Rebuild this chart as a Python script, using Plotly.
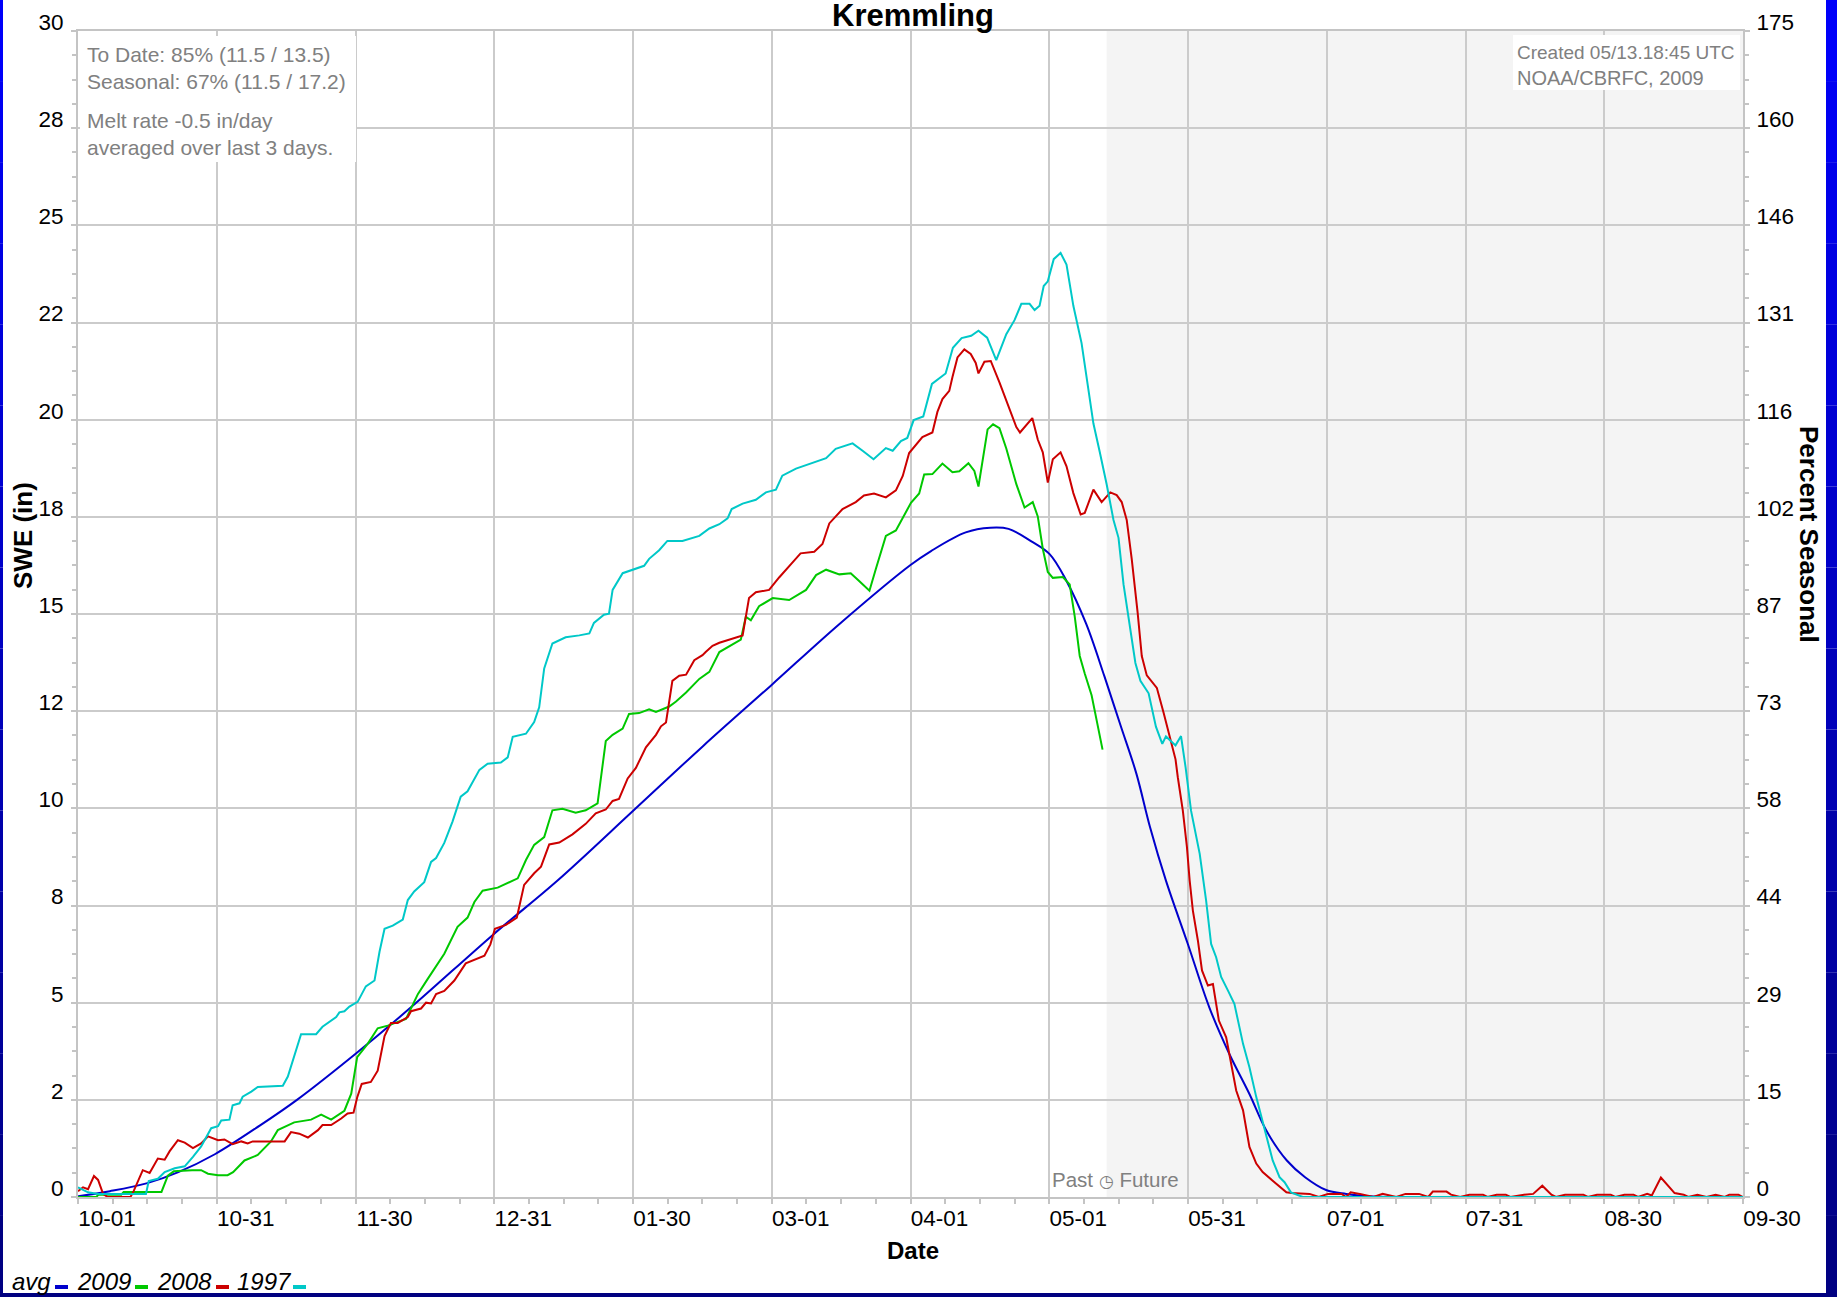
import plotly.graph_objects as go

# ---------------- data ----------------
title_text = "Kremmling"
x_tick_text = ["10-01", "10-31", "11-30", "12-31", "01-30", "03-01", "04-01",
               "05-01", "05-31", "07-01", "07-31", "08-30", "09-30"]
y_tick_vals = [0, 2.5, 5, 7.5, 10, 12.5, 15, 17.5, 20, 22.5, 25, 27.5, 30]
y_tick_text = ["0", "2", "5", "8", "10", "12", "15", "18", "20", "22", "25", "28", "30"]
pct_tick_text = ["0", "15", "29", "44", "58", "73", "87", "102", "116", "131", "146", "160", "175"]
season_days = 365          # water year Oct 1 .. Sep 30 (x = days since Oct 1)
future_start = 225.5       # May 13/14 -> start of "Future" shading

series_names = ["avg", "2009", "2008", "1997"]
series_colors = ["#0000cc", "#00c800", "#cc0000", "#00c8c8"]

avg_day = [0, 7, 15, 22, 30, 40, 48, 61, 73, 91, 105, 122, 137, 152, 167, 182.5,
           187, 194.6, 200, 204, 209, 213, 216.7, 221, 225, 228.5, 232, 235, 238.5,
           243.3, 248, 252.4, 256.8, 260.5, 265, 269, 273.6, 278, 283, 290, 365]
avg_swe = [0.02, 0.15, 0.35, 0.64, 1.1, 1.85, 2.5, 3.7, 4.88, 6.75, 8.13, 9.97, 11.6,
           13.17, 14.75, 16.26, 16.62, 17.1, 17.22, 17.19, 16.87, 16.54, 15.85, 14.75,
           13.4, 12.15, 10.9, 9.52, 8.14, 6.51, 4.88, 3.68, 2.65, 1.71, 0.94, 0.51,
           0.18, 0.08, 0.02, 0.0, 0.0]

wy2009_day = [0, 4, 4.5, 9.5, 10, 18.3, 19.7, 21, 25, 27, 28.5, 30.7, 32.8, 34, 36.5,
              39.4, 42.3, 43.8, 47.4, 51.1, 53.3, 55.5, 58.4, 59.9, 61.2, 63.5, 65.7,
              67.9, 71.9, 74.5, 76.6, 80.3, 83.2, 85.4, 86.9, 88.7, 92, 96.4, 98.2, 100,
              102.2, 104, 106.2, 109.1, 111.3, 113.9, 115.7, 117.2, 119.4, 120.8, 123,
              125.2, 126.7, 129.6, 131.1, 133.3, 136.2, 138.4, 140.6, 142.8, 145.3,
              146.4, 147.5, 149.3, 152.3, 155.9, 159.6, 161.8, 164, 166.9, 169.4,
              171.3, 173.5, 174.9, 177.1, 179.3, 181.5, 182.6, 184.4, 185.5, 187.3,
              189.5, 191.7, 193.2, 195.2, 196.5, 197.4, 199.4, 200.6, 202, 203.5,
              205.7, 207.5, 209.3, 210.4, 211.5, 212.6, 213.7, 215.9, 217.4, 218.5,
              219.6, 220.7, 222.2, 223.3, 224.6]
wy2009_swe = [0.0, 0.0, 0.06, 0.06, 0.13, 0.13, 0.55, 0.66, 0.69, 0.69, 0.6, 0.56, 0.56,
              0.64, 0.94, 1.08, 1.43, 1.72, 1.92, 1.99, 2.12, 1.99, 2.22, 2.66, 3.6,
              3.94, 4.34, 4.41, 4.58, 5.22, 5.6, 6.26, 6.95, 7.19, 7.59, 7.88, 7.96,
              8.2, 8.67, 9.06, 9.26, 9.95, 9.99, 9.89, 9.95, 10.13, 11.73, 11.89, 12.05,
              12.43, 12.45, 12.55, 12.48, 12.62, 12.75, 12.98, 13.33, 13.51, 14.02,
              14.18, 14.34, 14.93, 14.84, 15.2, 15.41, 15.36, 15.62, 16.0, 16.14, 16.02,
              16.05, 15.84, 15.6, 16.16, 17.01, 17.15, 17.6, 17.86, 18.1, 18.59, 18.6,
              18.87, 18.65, 18.67, 18.88, 18.68, 18.28, 19.75, 19.88, 19.78, 19.26,
              18.34, 17.74, 17.88, 17.51, 16.68, 16.08, 15.93, 15.95, 15.76, 14.94,
              13.92, 13.47, 12.91, 12.27, 11.51]

wy2008_day = [0, 1.1, 2.2, 3.5, 4.4, 5.5, 6.5, 11.5, 12.2, 14.2, 15.7, 17.5, 19, 20.1,
              21.9, 23.4, 25.2, 27, 28.5, 30.7, 32.1, 33.9, 35.8, 37.2, 38.3, 45.3, 46.7,
              48.5, 50.4, 52.6, 53.6, 55.5, 57.7, 59.1, 60.4, 61.2, 62.2, 64.2, 65.7,
              67.2, 68.6, 70.1, 72.3, 73, 75.2, 76.3, 77.4, 78.5, 80.3, 82.5, 85, 86.9,
              89.1, 90.4, 91.4, 93.8, 96.2, 97.8, 100, 101.5, 103.3, 105.5, 108.4, 111.3,
              113.5, 115.7, 117.2, 118.6, 120.5, 122.3, 124.5, 126.7, 127.8, 128.9,
              130.3, 131.8, 133.3, 135.1, 136.9, 137.6, 139.1, 140.6, 142.8, 145.7,
              147.1, 148.6, 151.5, 153.7, 156.6, 158.4, 161.4, 163.2, 164.7, 167.6,
              170.5, 172.3, 174.5, 177.1, 179.3, 180.8, 182.2, 185.1, 187.3, 188.4,
              189.5, 191, 191.7, 192.8, 194.3, 195.7, 196.8, 197.4, 198.7, 200.1, 202,
              203.8, 205.7, 206.5, 207.9, 209.2, 210.4, 211.5, 212.6, 213.7, 215.4,
              216.7, 218.2, 219.8, 220.7, 222.6, 224.4, 226.3, 227.7, 228.8, 229.9, 231,
              232.3, 233.2, 234.3, 236.5, 238, 239.5, 240.6, 241.1, 242.2, 243.1, 243.7,
              244.4, 245.5, 246.4, 247.7, 248.8, 250.1, 251.7, 253, 253.9, 255.4, 256.8,
              258.3, 259.7, 261.9, 264.9, 266, 270, 272, 274, 277, 278, 279, 281, 284,
              286, 289, 291, 294, 296, 297, 300, 301, 303, 305, 308, 309, 311, 313, 314,
              317, 319, 321, 323, 324, 326, 330, 331, 333, 336, 337, 339, 341, 342, 344,
              345, 347, 350, 352, 353, 355, 357, 359, 361, 362, 364, 365]
wy2008_swe = [0.15, 0.25, 0.2, 0.54, 0.44, 0.08, 0.0, 0.0, 0.15, 0.69, 0.62, 0.99, 0.96,
              1.18, 1.46, 1.4, 1.26, 1.38, 1.56, 1.46, 1.48, 1.36, 1.43, 1.38, 1.43,
              1.43, 1.67, 1.63, 1.53, 1.72, 1.85, 1.85, 2.02, 2.15, 2.17, 2.56, 2.91,
              2.96, 3.25, 4.14, 4.48, 4.48, 4.63, 4.78, 4.85, 5.0, 4.98, 5.22, 5.3, 5.57,
              6.01, 6.11, 6.21, 6.5, 6.9, 7.0, 7.19, 8.03, 8.33, 8.5, 9.07, 9.12, 9.33,
              9.6, 9.87, 9.97, 10.19, 10.24, 10.77, 11.04, 11.57, 11.89, 12.11, 12.21,
              13.28, 13.41, 13.44, 13.81, 13.94, 14.02, 14.18, 14.26, 14.34, 14.45,
              15.41, 15.56, 15.62, 15.94, 16.32, 16.56, 16.6, 16.8, 17.33, 17.7, 17.88,
              18.05, 18.1, 18.0, 18.18, 18.55, 19.14, 19.55, 19.67, 20.2, 20.53, 20.74,
              21.1, 21.6, 21.81, 21.69, 21.46, 21.19, 21.49, 21.51, 20.96, 20.4, 19.81,
              19.67, 19.85, 20.04, 19.49, 19.16, 18.38, 18.98, 19.16, 18.8, 18.11, 17.56,
              17.6, 18.2, 17.88, 18.13, 18.06, 17.88, 17.42, 16.41, 15.03, 13.92, 13.42,
              13.1, 12.45, 11.8, 11.26, 10.8, 9.94, 9.0, 8.14, 7.37, 6.6, 5.83, 5.44,
              5.48, 4.54, 4.11, 3.34, 2.74, 2.23, 1.29, 0.86, 0.64, 0.42, 0.12, 0.1,
              0.08, 0.0, 0.08, 0.08, 0.0, 0.12, 0.08, 0.0, 0.08, 0.0, 0.08, 0.08, 0.0,
              0.14, 0.14, 0.06, 0.0, 0.06, 0.06, 0.0, 0.06, 0.06, 0.0, 0.06, 0.08, 0.29,
              0.06, 0.0, 0.06, 0.06, 0.0, 0.06, 0.06, 0.0, 0.06, 0.06, 0.0, 0.08, 0.04,
              0.5, 0.1, 0.06, 0.0, 0.06, 0.0, 0.06, 0.0, 0.06, 0.06, 0.0]

wy1997_day = [0, 2.2, 4.4, 14.9, 15.5, 17.5, 19, 21.2, 23.4, 25.2, 27, 29.2, 30.7, 31.4,
              33.2, 33.9, 35.4, 36.1, 38, 39.4, 44.9, 46, 48.9, 52.2, 53.6, 54.7, 56.6,
              57.3, 58.4, 59.5, 61.3, 63.1, 65, 66.1, 67.2, 69, 71.2, 72.3, 73.7, 75.9,
              77.4, 78.5, 80.3, 82.1, 83.9, 85.4, 88, 89.8, 92.7, 94.2, 95.3, 98.2, 100,
              101.1, 102.2, 104, 106.9, 109.9, 112.1, 113.1, 115.3, 116.4, 117.2, 119.4,
              121.6, 124.1, 125.2, 127.4, 129.2, 132.5, 136.2, 138.4, 140.6, 142.4,
              143.3, 145.7, 148.6, 150.8, 153, 154.4, 157.4, 161, 164, 166.1, 169.8,
              172, 174.4, 177.1, 178.6, 180.4, 181.8, 183.2, 185.3, 187.2, 190.2, 191.8,
              193.7, 195.8, 197.4, 199.3, 201.3, 203.5, 205.3, 206.8, 208.6, 209.7,
              210.8, 211.7, 212.6, 213.9, 215.4, 216.7, 218.2, 220, 221.5, 222.6, 224,
              225.5, 227, 228.1, 229.2, 230.7, 231.8, 232.9, 234.7, 236.3, 237.7, 238.5,
              240.6, 241.8, 242.8, 244, 245.9, 247.3, 248.4, 249.5, 250.6, 252.1, 253.5,
              255.4, 256.8, 258.3, 260.5, 261.9, 263.4, 264.5, 265.9, 268.5, 365]
wy1997_swe = [0.25, 0.12, 0.08, 0.08, 0.41, 0.47, 0.64, 0.74, 0.79, 1.03, 1.3, 1.77,
              1.82, 1.97, 1.99, 2.36, 2.41, 2.58, 2.71, 2.83, 2.86, 3.1, 4.19, 4.19,
              4.38, 4.48, 4.63, 4.75, 4.78, 4.9, 5.02, 5.42, 5.57, 6.31, 6.9, 6.98, 7.14,
              7.64, 7.86, 8.1, 8.62, 8.72, 9.11, 9.66, 10.3, 10.44, 10.99, 11.15, 11.18,
              11.31, 11.84, 11.92, 12.22, 12.6, 13.6, 14.24, 14.4, 14.45, 14.5, 14.77,
              14.98, 15.01, 15.62, 16.05, 16.14, 16.24, 16.42, 16.64, 16.88, 16.88,
              17.01, 17.2, 17.31, 17.46, 17.7, 17.84, 17.94, 18.13, 18.2, 18.56, 18.74,
              18.88, 19.01, 19.25, 19.39, 19.2, 18.98, 19.27, 19.2, 19.45, 19.53, 19.99,
              20.08, 20.92, 21.19, 21.85, 22.1, 22.16, 22.29, 22.11, 21.53, 22.2, 22.56,
              22.98, 22.98, 22.82, 22.93, 23.44, 23.56, 24.13, 24.29, 23.99, 22.93,
              21.97, 20.82, 19.9, 19.16, 18.34, 17.42, 16.96, 15.76, 14.57, 13.74, 13.28,
              12.96, 12.1, 11.66, 11.85, 11.62, 11.86, 11.06, 9.94, 8.83, 7.63, 6.51,
              6.17, 5.66, 5.31, 4.97, 3.94, 3.34, 2.57, 1.54, 0.94, 0.51, 0.38, 0.12,
              0.0, 0.0]

info_left_1 = "To Date: 85% (11.5 / 13.5)<br>Seasonal: 67% (11.5 / 17.2)"
info_left_2 = "Melt rate -0.5 in/day<br>averaged over last 3 days."
info_right_1 = "Created 05/13.18:45 UTC"
info_right_2 = "NOAA/CBRFC, 2009"

# ---------------- layout geometry (pixels) ----------------
W, H = 1837, 1297
L, R, T, B = 78, 1743, 31, 1197


def px(x):
    return (x - L) / (R - L)


def py(y):
    return (B - y) / (B - T)


FONT = "Liberation Sans, Arial, Helvetica, sans-serif"
GRID = "#cbcbcb"
AXIS = "#c4c4c4"
TXT_GRAY = "#808080"

x_tick_vals = [i * season_days / 12 for i in range(13)]

fig = go.Figure()
series = [(avg_day, avg_swe), (wy2009_day, wy2009_swe),
          (wy2008_day, wy2008_swe), (wy1997_day, wy1997_swe)]
for name, color, (d, v) in zip(series_names, series_colors, series):
    fig.add_trace(go.Scatter(
        x=d, y=v, mode="lines", name=name,
        line=dict(color=color, width=2,
                  shape="spline" if name == "avg" else "linear"),
        showlegend=False, hoverinfo="skip"))
# helper (invisible) trace so the right-hand percent axis is drawn
fig.add_trace(go.Scatter(x=[0], y=[0], yaxis="y2", mode="markers",
                         marker=dict(opacity=0), showlegend=False,
                         hoverinfo="skip"))

tick_common = dict(ticks="outside", ticklen=5, tickwidth=1.5, tickcolor=AXIS,
                   showline=True, linecolor=AXIS, linewidth=2,
                   zeroline=False, automargin=False, fixedrange=True,
                   tickfont=dict(family=FONT, size=22.5, color="black"))

fig.update_layout(
    width=W, height=H,
    margin=dict(l=L, r=W - R, t=T, b=H - B, pad=0, autoexpand=False),
    paper_bgcolor="white", plot_bgcolor="white",
    font=dict(family=FONT, color="black"),
    xaxis=dict(range=[0, season_days], tickmode="array", tickvals=x_tick_vals,
               ticktext=x_tick_text, showgrid=True, gridcolor=GRID, gridwidth=1.5,
               mirror=True, ticklabelshift=29, ticklabelstandoff=-5,
               minor=dict(tick0=0, dtick=season_days / 48, ticks="outside",
                          ticklen=5, tickcolor=AXIS, tickwidth=1.5, showgrid=False),
               **tick_common),
    yaxis=dict(range=[0, 30], tickmode="array", tickvals=y_tick_vals,
               ticktext=y_tick_text, showgrid=True, gridcolor=GRID, gridwidth=1.5,
               mirror=True, ticklabelshift=-9, ticklabelstandoff=3,
               minor=dict(tick0=0, dtick=0.625, ticks="outside", ticklen=4,
                          tickcolor=AXIS, tickwidth=1.5, showgrid=False),
               **tick_common),
    yaxis2=dict(range=[0, 30], overlaying="y", side="right", anchor="x",
                tickmode="array", tickvals=y_tick_vals, ticktext=pct_tick_text,
                showgrid=False, ticklabelshift=-9, ticklabelstandoff=2,
                minor=dict(tick0=0, dtick=0.625, ticks="outside", ticklen=4,
                           tickcolor=AXIS, tickwidth=1.5, showgrid=False),
                **tick_common),
)

shapes = []
# future shading (below grid)
shapes.append(dict(type="rect", xref="x", yref="paper", x0=future_start,
                   x1=season_days, y0=0, y1=1, fillcolor="#f4f4f4",
                   line=dict(width=0), layer="below"))
# white patch behind "Past" label
shapes.append(dict(type="rect", xref="paper", yref="paper", x0=px(1046),
                   x1=px(1106), y0=py(1195), y1=py(1162), fillcolor="white",
                   line=dict(width=0), layer="between"))
# white boxes behind info texts
shapes.append(dict(type="rect", xref="paper", yref="paper", x0=px(80),
                   x1=px(356), y0=py(162), y1=py(36), fillcolor="white",
                   line=dict(width=0), layer="above"))
shapes.append(dict(type="rect", xref="paper", yref="paper", x0=px(1513),
                   x1=px(1740), y0=py(90), y1=py(35), fillcolor="white",
                   line=dict(width=0), layer="above"))

# blue frame around the image (vertical gradient approximated by bands)
nb = 16
for i in range(nb):
    f = i / (nb - 1)
    col = "rgb(0,0,%d)" % round(250 - f * 120)
    y_top = H * i / nb
    y_bot = H * (i + 1) / nb
    shapes.append(dict(type="rect", xref="paper", yref="paper",
                       x0=px(0), x1=px(3), y0=py(y_bot), y1=py(y_top),
                       fillcolor=col, line=dict(width=0), layer="above"))
    shapes.append(dict(type="rect", xref="paper", yref="paper",
                       x0=px(1826), x1=px(W), y0=py(y_bot), y1=py(y_top),
                       fillcolor=col, line=dict(width=0), layer="above"))
shapes.append(dict(type="rect", xref="paper", yref="paper", x0=px(0), x1=px(W),
                   y0=py(H), y1=py(1293), fillcolor="rgb(0,0,128)",
                   line=dict(width=0), layer="above"))

annotations = []


def ann(text, x, y, size, color="black", xanchor="center", yanchor="middle",
        angle=0, align="left"):
    annotations.append(dict(text=text, x=px(x), y=py(y), xref="paper",
                            yref="paper", showarrow=False, xanchor=xanchor,
                            yanchor=yanchor, textangle=angle, align=align,
                            font=dict(family=FONT, size=size, color=color)))


ann("<b>%s</b>" % title_text, 913, 15.5, 31)
ann(info_left_1, 85, 68.5, 21, TXT_GRAY, xanchor="left")
ann(info_left_2, 85, 134, 21, TXT_GRAY, xanchor="left")
ann(info_right_1, 1515, 52, 19, TXT_GRAY, xanchor="left")
ann(info_right_2, 1515, 78, 20, TXT_GRAY, xanchor="left")
ann("Past <span style='font-size:17px'>◷</span> Future", 1115, 1179, 20.5, TXT_GRAY)
ann("<b>SWE (in)</b>", 23, 536, 26, angle=-90)
ann("<b>Percent Seasonal</b>", 1809, 534, 26, angle=90)
ann("<b>Date</b>", 913, 1250, 24)

# legend row: label followed by a short coloured bar
legend_text_x = [12, 77, 157, 237]
legend_bar_x = [55, 135, 216, 293]
for name, color, tx, bx in zip(series_names, series_colors, legend_text_x, legend_bar_x):
    ann("<i>%s</i>" % name, tx - 2, 1281, 24, xanchor="left")
    shapes.append(dict(type="rect", xref="paper", yref="paper", x0=px(bx),
                       x1=px(bx + 13), y0=py(1289), y1=py(1285), fillcolor=color,
                       line=dict(width=0), layer="above"))

fig.update_layout(shapes=shapes, annotations=annotations)

fig.write_html("out.html", config={"displayModeBar": False},
               post_script="document.body.style.margin='0';")
